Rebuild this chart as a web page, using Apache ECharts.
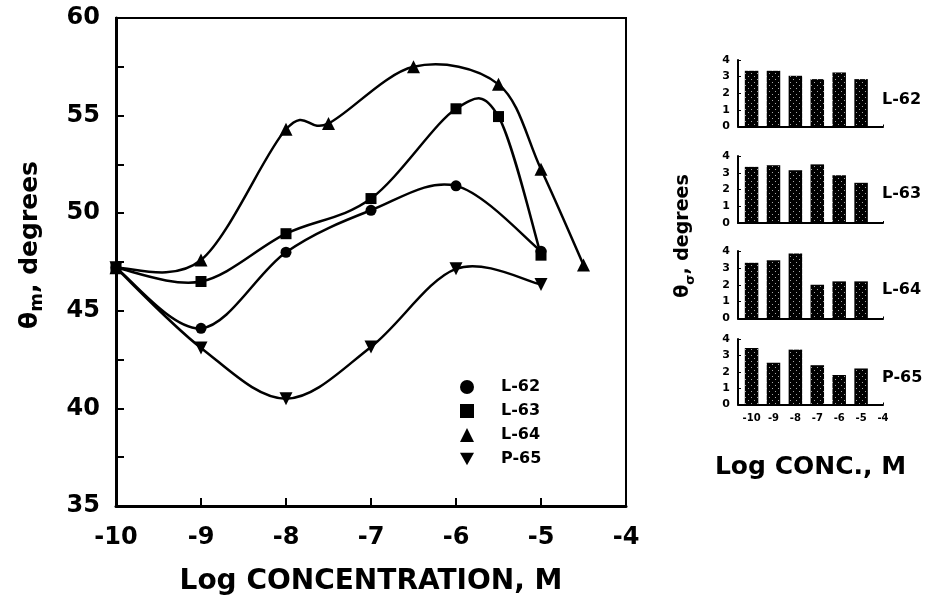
<!DOCTYPE html>
<html><head><meta charset="utf-8">
<script src="https://cdn.jsdelivr.net/npm/echarts@6/dist/echarts.min.js"></script>
<style>html,body{margin:0;padding:0;background:#fff}#c{width:927px;height:595px}</style>
</head><body><div id="c"></div>
<script>
// ---- Main chart data (x = log concentration, y = theta_m degrees)
const xL62 = [-10, -9, -8, -7, -6, -5];
const yL62 = [47.2, 44.1, 48.0, 50.15, 51.4, 48.05];
const xL63 = [-10, -9, -8, -7, -6, -5.5, -5];
const yL63 = [47.2, 46.5, 48.95, 50.75, 55.35, 54.95, 47.85];
const xL64 = [-10, -9, -8, -7.5, -6.5, -5.5, -5, -4.5];
const yL64 = [47.2, 47.6, 54.3, 54.6, 57.5, 56.6, 52.25, 47.35];
const xP65 = [-10, -9, -8, -7, -6, -5];
const yP65 = [47.2, 43.1, 40.5, 43.15, 47.15, 46.35];
const seriesNames = ['L-62', 'L-63', 'L-64', 'P-65'];
const mainXTicks = [-10, -9, -8, -7, -6, -5, -4];
const mainYTicks = [35, 40, 45, 50, 55, 60];

// ---- Side bar charts (theta_sigma degrees)
const barX = [-10, -9, -8, -7, -6, -5];
const barL62 = [3.35, 3.35, 3.05, 2.85, 3.25, 2.85];
const barL63 = [3.35, 3.45, 3.15, 3.5, 2.85, 2.4];
const barL64 = [3.3, 3.45, 3.85, 2.0, 2.2, 2.2];
const barP65 = [3.45, 2.55, 3.35, 2.4, 1.8, 2.2];
const barXTicks = [-10, -9, -8, -7, -6, -5, -4];
const barYTicks = [0, 1, 2, 3, 4];

const FONT = '"DejaVu Sans", "Liberation Sans", Arial, sans-serif';
const pair = (xs, ys) => xs.map((x, i) => [x, ys[i]]);

function makePattern() {
  const c = document.createElement('canvas');
  c.width = 6; c.height = 6;
  const g = c.getContext('2d');
  g.fillStyle = '#000'; g.fillRect(0, 0, 6, 6);
  g.fillStyle = '#a8a8a8';
  g.fillRect(1, 1, 1, 1); g.fillRect(4, 4, 1, 1);
  return c;
}
const pat = { image: makePattern(), repeat: 'repeat' };

const downTri = 'path://M0,0 L10,0 L5,9 Z';
const symbols = ['circle', 'rect', 'triangle', downTri];
const symSizes = [11, 11, 13, 13];

const chart = echarts.init(document.getElementById('c'), null, { renderer: 'canvas' });

const smallTops = [60, 156, 251, 339];
const smallH = [66.5, 67, 67.5, 65.5];
const barSets = [barL62, barL63, barL64, barP65];

const grids = [{ left: 116, top: 18, width: 510, height: 488, show: true, borderColor: '#000', borderWidth: 2, outerBoundsMode: 'none', containLabel: false }];
smallTops.forEach((t, i) => grids.push({ left: 738, top: t, width: 145, height: smallH[i], outerBoundsMode: 'none', containLabel: false }));

const xAxes = [{
  gridIndex: 0, type: 'value', min: -10, max: -4, interval: 1,
  name: 'Log CONCENTRATION, M', nameLocation: 'middle', nameGap: 62,
  nameTextStyle: { fontFamily: FONT, fontWeight: 'bold', fontSize: 28, color: '#000' },
  axisLine: { lineStyle: { color: '#000', width: 3 } },
  axisTick: { inside: true, length: 8, lineStyle: { width: 2, color: '#000' } },
  axisLabel: { customValues: mainXTicks, margin: 20, fontFamily: FONT, fontWeight: 'bold', fontSize: 24, color: '#000' },
  splitLine: { show: false }
}];
const yAxes = [{
  gridIndex: 0, type: 'value', min: 35, max: 60, interval: 5,
  name: '{a|θ}{b|m}{a|, degrees}', nameLocation: 'middle', nameGap: 70,
  nameTextStyle: { padding: [0, 0, 0, 34], rich: {
    a: { fontFamily: FONT, fontWeight: 'bold', fontSize: 25, color: '#000', lineHeight: 32, verticalAlign: 'middle' },
    b: { fontFamily: FONT, fontWeight: 'bold', fontSize: 18, color: '#000', verticalAlign: 'bottom', padding: [14, 0, 0, 0] }
  } },
  axisLine: { lineStyle: { color: '#000', width: 3 } },
  axisTick: { inside: true, length: 8, lineStyle: { width: 2, color: '#000' } },
  minorTick: { show: true, splitNumber: 2, length: 8, lineStyle: { width: 2, color: '#000' } },
  axisLabel: { customValues: mainYTicks, margin: 16, fontFamily: FONT, fontWeight: 'bold', fontSize: 24, color: '#000' },
  splitLine: { show: false }
}];

for (let i = 0; i < 4; i++) {
  xAxes.push({
    gridIndex: i + 1, type: 'value', min: -10.62, max: -4,
    name: i === 3 ? 'Log CONC., M' : '', nameLocation: 'middle', nameGap: 50,
    nameTextStyle: { fontFamily: FONT, fontWeight: 'bold', fontSize: 25, color: '#000' },
    axisLine: { lineStyle: { color: '#000', width: 2 } },
    axisTick: { show: true, inside: true, length: 2, customValues: barXTicks, lineStyle: { color: '#000' } },
    axisLabel: { show: i === 3, customValues: barXTicks, margin: 9, fontFamily: FONT, fontWeight: 'bold', fontSize: 10, color: '#000' },
    splitLine: { show: false }
  });
  yAxes.push({
    gridIndex: i + 1, type: 'value', min: 0, max: 4, interval: 1,
    axisLine: { show: true, lineStyle: { color: '#000', width: 2 } },
    axisTick: { inside: true, length: 3, lineStyle: { color: '#000' } },
    axisLabel: { customValues: barYTicks, margin: 8, fontFamily: FONT, fontWeight: 'bold', fontSize: 11, color: '#000' },
    splitLine: { show: false }
  });
}

const mainPairs = [pair(xL62, yL62), pair(xL63, yL63), pair(xL64, yL64), pair(xP65, yP65)];

// smooth curve through the data points (Catmull-Rom), positioned by the axes via api.coord
function curveRenderer(data) {
  return function (params, api) {
    const i = params.dataIndex;
    if (i >= data.length - 1) return null;
    const P = k => api.coord(data[Math.max(0, Math.min(data.length - 1, k))]);
    const p0 = P(i - 1), p1 = P(i), p2 = P(i + 1), p3 = P(i + 2);
    return {
      type: 'bezierCurve',
      shape: {
        x1: p1[0], y1: p1[1], x2: p2[0], y2: p2[1],
        cpx1: p1[0] + (p2[0] - p0[0]) / 6, cpy1: p1[1] + (p2[1] - p0[1]) / 6,
        cpx2: p2[0] - (p3[0] - p1[0]) / 6, cpy2: p2[1] - (p3[1] - p1[1]) / 6
      },
      style: { fill: null, stroke: '#000', lineWidth: 2.5 }
    };
  };
}

const series = [];
mainPairs.forEach((d, i) => {
  series.push({
    name: seriesNames[i] + ' curve', type: 'custom', xAxisIndex: 0, yAxisIndex: 0,
    data: d, encode: { x: 0, y: 1 }, renderItem: curveRenderer(d), z: 2, silent: true, animation: false
  });
  series.push({
    name: seriesNames[i], type: 'line', xAxisIndex: 0, yAxisIndex: 0,
    data: d, symbol: symbols[i], symbolSize: symSizes[i], showAllSymbol: true,
    lineStyle: { opacity: 0, width: 0 }, itemStyle: { color: '#000' },
    z: 3 + i, animation: false
  });
});
barSets.forEach((b, i) => series.push({
  name: 'bars ' + seriesNames[i], type: 'bar', xAxisIndex: i + 1, yAxisIndex: i + 1,
  data: pair(barX, b), barWidth: 13.5, itemStyle: { color: pat }, animation: false
}));

const graphics = seriesNames.map((n, i) => ({
  type: 'text', left: 882, top: smallTops[i] + [32, 30, 31, 31][i],
  style: { text: n, font: 'bold 16px ' + FONT, fill: '#000' }
}));
graphics.push({
  type: 'text', x: 683, y: 236, rotation: Math.PI / 2,
  style: {
    text: '{a|θ}{b|σ}{a|, degrees}', align: 'center', verticalAlign: 'middle',
    rich: {
      a: { font: 'bold 19px ' + FONT, fill: '#000', lineHeight: 28, verticalAlign: 'middle' },
      b: { font: 'bold 13px ' + FONT, fill: '#000', verticalAlign: 'bottom', padding: [12, 0, 0, 0] }
    }
  }
});

chart.setOption({
  animation: false,
  backgroundColor: '#fff',
  grid: grids,
  xAxis: xAxes,
  yAxis: yAxes,
  legend: {
    orient: 'vertical', left: 455, top: 374, itemWidth: 14, itemHeight: 14, itemGap: 8,
    data: seriesNames.map((n, i) => ({ name: n, icon: symbols[i] })),
    itemStyle: { color: '#000' },
    textStyle: { fontFamily: FONT, fontWeight: 'bold', fontSize: 16, color: '#000', padding: [0, 0, 0, 22] }
  },
  graphic: graphics,
  series: series
});
</script></body></html>
